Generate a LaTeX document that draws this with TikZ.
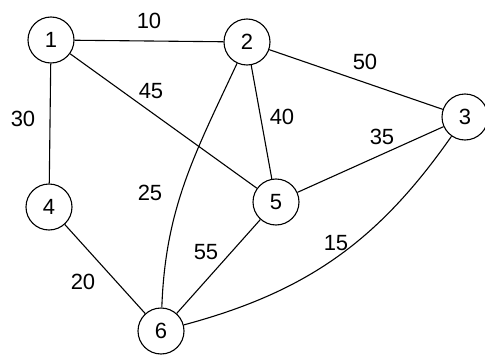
\documentclass[tikz,border=0pt]{standalone}
\usepackage{fontspec}
\setmainfont{Liberation Sans}
\begin{document}
\begin{tikzpicture}[x=1pt,y=-1pt,
  vert/.style={circle,draw,line width=1.1pt,minimum size=46pt,inner sep=0pt,font=\fontsize{22}{22}\selectfont},
  edge/.style={line width=1.1pt},
  wlab/.style={font=\fontsize{22}{22}\selectfont,inner sep=0pt}]
\useasboundingbox (0,0) rectangle (485,356);
\node[vert] (n1) at (51,40) {1};
\node[vert] (n2) at (247,42) {2};
\node[vert] (n3) at (465,117) {3};
\node[vert] (n4) at (49,207) {4};
\node[vert] (n5) at (276,202) {5};
\node[vert] (n6) at (161,331) {6};
\draw[edge] (n1) -- (n2);
\draw[edge] (n1) -- (n4);
\draw[edge] (n1) -- (n5);
\draw[edge] (n2) -- (n5);
\draw[edge] (n2) -- (n3);
\draw[edge] (n3) -- (n5);
\draw[edge] (n4) -- (n6);
\draw[edge] (n5) -- (n6);
\draw[edge] (n2) to[out=-115,in=88] (n6);
\draw[edge] (n3) to[out=-125,in=15] (n6);
\node[wlab] (l10) at (149,21) {10};
\node[wlab] (l30) at (23,119) {30};
\node[wlab] (l45) at (151,91) {45};
\node[wlab] (l50) at (365,62) {50};
\node[wlab] (l40) at (282,117) {40};
\node[wlab] (l35) at (382,137) {35};
\node[wlab] (l25) at (150,193) {25};
\node[wlab] (l55) at (206,252) {55};
\node[wlab] (l20) at (83,282) {20};
\node[wlab] (l15) at (336,243) {15};
\end{tikzpicture}
\end{document}
